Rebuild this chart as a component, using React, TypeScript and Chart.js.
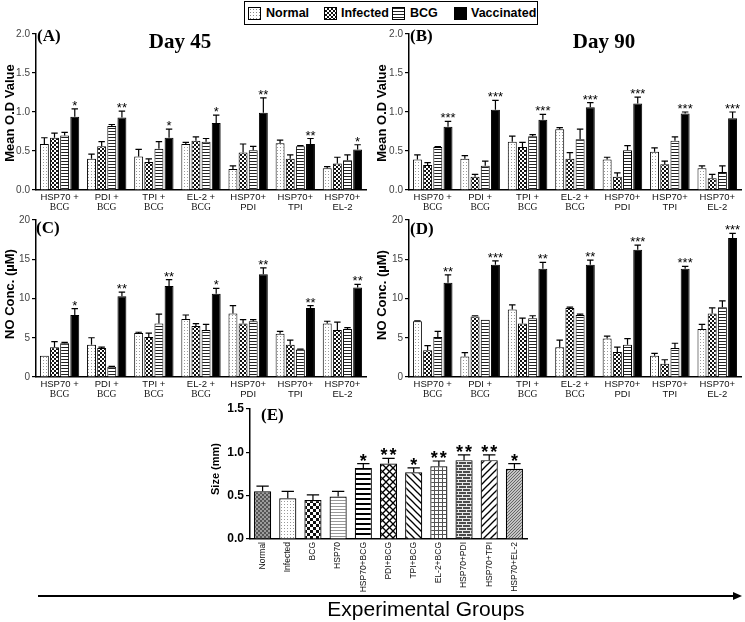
import { useEffect, useRef } from 'react';
import { Chart, registerables } from 'chart.js';

Chart.register(...registerables);

// ---------------- data ----------------
const groupLine1 = ['HSP70 +', 'PDI +', 'TPI +', 'EL-2 +', 'HSP70+', 'HSP70+', 'HSP70+'];
const groupLine2 = ['BCG', 'BCG', 'BCG', 'BCG', 'PDI', 'TPI', 'EL-2'];
const seriesNames = ['Normal', 'Infected', 'BCG', 'Vaccinated'];

// (A) Day 45, mean O.D value
const d45Normal = [0.59, 0.40, 0.43, 0.59, 0.27, 0.60, 0.28];
const d45NormalSem = [0.08, 0.06, 0.09, 0.02, 0.04, 0.04, 0.02];
const d45Infected = [0.67, 0.56, 0.36, 0.63, 0.48, 0.40, 0.34];
const d45InfectedSem = [0.06, 0.06, 0.04, 0.05, 0.11, 0.05, 0.08];
const d45Bcg = [0.70, 0.82, 0.53, 0.62, 0.51, 0.56, 0.38];
const d45BcgSem = [0.04, 0.02, 0.09, 0.04, 0.05, 0.01, 0.07];
const d45Vacc = [0.94, 0.93, 0.67, 0.86, 0.99, 0.59, 0.52];
const d45VaccSem = [0.10, 0.08, 0.11, 0.10, 0.19, 0.07, 0.06];
const d45Stars = ['*', '**', '*', '*', '**', '**', '*'];

// (B) Day 90, mean O.D value
const d90Normal = [0.39, 0.40, 0.62, 0.78, 0.39, 0.49, 0.28];
const d90NormalSem = [0.06, 0.04, 0.07, 0.02, 0.03, 0.05, 0.03];
const d90Infected = [0.32, 0.17, 0.55, 0.40, 0.17, 0.33, 0.15];
const d90InfectedSem = [0.03, 0.03, 0.06, 0.08, 0.05, 0.04, 0.05];
const d90Bcg = [0.55, 0.31, 0.69, 0.65, 0.51, 0.63, 0.23];
const d90BcgSem = [0.005, 0.06, 0.02, 0.13, 0.06, 0.05, 0.08];
const d90Vacc = [0.81, 1.03, 0.90, 1.06, 1.11, 0.98, 0.92];
const d90VaccSem = [0.07, 0.12, 0.07, 0.06, 0.08, 0.02, 0.08];
const d90Stars = ['***', '***', '***', '***', '***', '***', '***'];

// (C) NO concentration, Day 45
const no45Normal = [2.7, 4.1, 5.6, 7.4, 8.1, 5.5, 6.8];
const no45NormalSem = [0, 0.9, 0.1, 0.5, 1.0, 0.3, 0.3];
const no45Infected = [3.8, 3.7, 5.1, 6.5, 6.8, 4.1, 6.0];
const no45InfectedSem = [0.7, 0.1, 0.5, 0.3, 0.5, 0.6, 1.0];
const no45Bcg = [4.3, 1.3, 6.8, 6.0, 7.1, 3.5, 6.1];
const no45BcgSem = [0.1, 0.05, 1.2, 0.7, 0.2, 0.05, 0.2];
const no45Vacc = [7.9, 10.3, 11.6, 10.6, 13.1, 8.8, 11.4];
const no45VaccSem = [0.8, 0.5, 0.8, 0.7, 0.8, 0.3, 0.4];
const no45Stars = ['*', '**', '**', '*', '**', '**', '**'];

// (D) NO concentration, Day 90
const no90Normal = [7.1, 2.6, 8.6, 3.8, 4.9, 2.7, 6.1];
const no90NormalSem = [0.05, 0.5, 0.6, 0.9, 0.3, 0.3, 0.6];
const no90Infected = [3.4, 7.7, 6.8, 8.8, 3.2, 1.7, 8.1];
const no90InfectedSem = [0.6, 0.1, 0.7, 0.1, 0.6, 0.5, 0.7];
const no90Bcg = [5.1, 7.3, 7.5, 7.9, 4.1, 3.7, 8.9];
const no90BcgSem = [0.7, 0, 0.3, 0.1, 0.8, 0.6, 0.8];
const no90Vacc = [12.0, 14.3, 13.8, 14.3, 16.2, 13.8, 17.7];
const no90VaccSem = [1.0, 0.5, 0.8, 0.6, 0.6, 0.3, 0.6];
const no90Stars = ['**', '***', '**', '**', '***', '***', '***'];

// (E) Size (mm)
const sizeGroups = ['Normal', 'Infected', 'BCG', 'HSP70', 'HSP70+BCG', 'PDI+BCG', 'TPI+BCG', 'EL-2+BCG', 'HSP70+PDI', 'HSP70+TPI', 'HSP70+EL-2'];
const sizeValues = [0.55, 0.47, 0.45, 0.49, 0.82, 0.87, 0.77, 0.84, 0.91, 0.91, 0.81];
const sizeSem = [0.06, 0.08, 0.06, 0.06, 0.05, 0.06, 0.05, 0.06, 0.06, 0.06, 0.06];
const sizeStars = ['', '', '', '', '*', '**', '*', '**', '**', '**', '*'];

// ---------------- styles ----------------
const SANS = "'Liberation Sans', Arial, Helvetica, sans-serif";
const SERIF = "'Liberation Serif', 'Times New Roman', Times, serif";

function makePattern(w: number, h: number, draw: (c: CanvasRenderingContext2D) => void): CanvasPattern {
  const t = document.createElement('canvas');
  t.width = w;
  t.height = h;
  const c = t.getContext('2d')!;
  draw(c);
  return c.createPattern(t, 'repeat')!;
}
const dots = (bg: string, fg: string) =>
  makePattern(3, 3, (c) => { c.fillStyle = bg; c.fillRect(0, 0, 3, 3); c.fillStyle = fg; c.fillRect(1, 1, 1, 1); });
const checker = (a: string, b: string, s: number) =>
  makePattern(2 * s, 2 * s, (c) => { c.fillStyle = b; c.fillRect(0, 0, 2 * s, 2 * s); c.fillStyle = a; c.fillRect(0, 0, s, s); c.fillRect(s, s, s, s); });
const hlines = (bg: string, fg: string, period: number, thick: number) =>
  makePattern(2, period, (c) => { c.fillStyle = bg; c.fillRect(0, 0, 2, period); c.fillStyle = fg; c.fillRect(0, 0, 2, thick); });
const diag = (dirs: string[], p: number, lw: number, bg = '#fff', fg = '#000') =>
  makePattern(p, p, (c) => {
    c.fillStyle = bg; c.fillRect(0, 0, p, p);
    c.strokeStyle = fg; c.lineWidth = lw;
    for (const k of [-p, 0, p]) {
      if (dirs.includes('\\')) { c.beginPath(); c.moveTo(k - 1, -1); c.lineTo(k + p + 1, p + 1); c.stroke(); }
      if (dirs.includes('/')) { c.beginPath(); c.moveTo(k - 1, p + 1); c.lineTo(k + p + 1, -1); c.stroke(); }
    }
  });
const grid = () =>
  makePattern(4, 4, (c) => { c.fillStyle = '#fff'; c.fillRect(0, 0, 4, 4); c.fillStyle = '#555'; c.fillRect(0, 0, 4, 1); c.fillRect(0, 0, 1, 4); });
const brick = () =>
  makePattern(8, 6, (c) => {
    c.fillStyle = '#4a4a4a'; c.fillRect(0, 0, 8, 6);
    c.fillStyle = '#e8e8e8';
    c.fillRect(0, 0, 8, 1); c.fillRect(0, 3, 8, 1);
    c.fillRect(0, 0, 1, 3); c.fillRect(4, 3, 1, 3);
  });

// ---------------- layout ----------------
type Spec = {
  id: string;
  canvas: { left: number; top: number; width: number; height: number };
  area: { l: number; t: number; r: number; b: number };
  yMax: number; yStep: number; decimals: number;
  yTitle: string; yTitlePos: [number, number];
  tag: string; tagPos: [number, number];
  day?: string; dayPos?: [number, number];
  series: number[][]; sems: number[][]; stars: string[];
};

const panels: Spec[] = [
  {
    id: 'A', canvas: { left: 0, top: 26, width: 372, height: 190 }, area: { l: 36, t: 33, r: 366, b: 190 },
    yMax: 2, yStep: 0.5, decimals: 1, yTitle: 'Mean O.D Value', yTitlePos: [10, 113],
    tag: '(A)', tagPos: [37, 37], day: 'Day 45', dayPos: [180, 43],
    series: [d45Normal, d45Infected, d45Bcg, d45Vacc], sems: [d45NormalSem, d45InfectedSem, d45BcgSem, d45VaccSem], stars: d45Stars,
  },
  {
    id: 'B', canvas: { left: 372, top: 26, width: 373, height: 190 }, area: { l: 409, t: 33, r: 741, b: 190 },
    yMax: 2, yStep: 0.5, decimals: 1, yTitle: 'Mean O.D Value', yTitlePos: [382, 113],
    tag: '(B)', tagPos: [410, 37], day: 'Day 90', dayPos: [604, 43],
    series: [d90Normal, d90Infected, d90Bcg, d90Vacc], sems: [d90NormalSem, d90InfectedSem, d90BcgSem, d90VaccSem], stars: d90Stars,
  },
  {
    id: 'C', canvas: { left: 0, top: 212, width: 372, height: 190 }, area: { l: 36, t: 220, r: 366, b: 377 },
    yMax: 20, yStep: 5, decimals: 0, yTitle: 'NO Conc. (\u00b5M)', yTitlePos: [10, 294],
    tag: '(C)', tagPos: [36, 229],
    series: [no45Normal, no45Infected, no45Bcg, no45Vacc], sems: [no45NormalSem, no45InfectedSem, no45BcgSem, no45VaccSem], stars: no45Stars,
  },
  {
    id: 'D', canvas: { left: 372, top: 212, width: 373, height: 190 }, area: { l: 409, t: 220, r: 741, b: 377 },
    yMax: 20, yStep: 5, decimals: 0, yTitle: 'NO Conc. (\u00b5M)', yTitlePos: [382, 295],
    tag: '(D)', tagPos: [410, 230],
    series: [no90Normal, no90Infected, no90Bcg, no90Vacc], sems: [no90NormalSem, no90InfectedSem, no90BcgSem, no90VaccSem], stars: no90Stars,
  },
];

function drawErrorBars(chart: any, sems: number[][], capRatio: number) {
  const ctx = chart.ctx;
  const y = chart.scales.y;
  ctx.save();
  ctx.strokeStyle = '#000';
  ctx.lineWidth = 1.2;
  chart.data.datasets.forEach((ds: any, d: number) => {
    const meta = chart.getDatasetMeta(d);
    meta.data.forEach((el: any, i: number) => {
      const e = sems[d][i];
      if (!e) return;
      const top = y.getPixelForValue(ds.data[i] + e);
      const w = el.width * capRatio;
      ctx.beginPath();
      ctx.moveTo(el.x, el.y);
      ctx.lineTo(el.x, top);
      ctx.moveTo(el.x - w, top);
      ctx.lineTo(el.x + w, top);
      ctx.stroke();
    });
  });
  ctx.restore();
}

function GroupPanel({ spec }: { spec: Spec }) {
  const ref = useRef<HTMLCanvasElement>(null);
  const { canvas, area } = spec;
  useEffect(() => {
    const fills: any[] = [dots('#fff', '#9a9a9a'), checker('#111', '#fff', 2), hlines('#fff', '#222', 3, 1), '#000'];
    const yW = area.l - canvas.left;
    const padT = area.t - canvas.top;
    const padR = canvas.left + canvas.width - area.r;
    const xH = canvas.top + canvas.height - area.b;
    const ox = canvas.left;
    const oy = canvas.top;
    const decor = {
      id: 'decor' + spec.id,
      afterDatasetsDraw(chart: any) {
        const ctx = chart.ctx;
        drawErrorBars(chart, spec.sems, 0.36);
        const y = chart.scales.y;
        const x = chart.scales.x;
        ctx.save();
        ctx.fillStyle = '#000';
        // stars over vaccinated bars
        const meta = chart.getDatasetMeta(3);
        ctx.font = `13px ${SANS}`;
        ctx.textAlign = 'center';
        ctx.textBaseline = 'alphabetic';
        meta.data.forEach((el: any, i: number) => {
          const top = y.getPixelForValue(spec.series[3][i] + spec.sems[3][i]);
          ctx.fillText(spec.stars[i], el.x, top + 1);
        });
        // two-line category labels
        const cb = chart.chartArea.bottom;
        ctx.textBaseline = 'middle';
        ctx.fillStyle = '#111';
        groupLine1.forEach((t, i) => {
          const px = x.getPixelForValue(i);
          ctx.font = `9.5px ${SANS}`;
          ctx.fillText(t, px, cb + 7);
          const t2 = groupLine2[i];
          ctx.font = t2 === 'BCG' ? `9.5px ${SERIF}` : `9.5px ${SANS}`;
          ctx.fillText(t2, px, cb + 17);
        });
        // panel tag & day title
        ctx.fillStyle = '#000';
        ctx.textAlign = 'left';
        ctx.font = `bold 17px ${SERIF}`;
        ctx.fillText(spec.tag, spec.tagPos[0] - ox, spec.tagPos[1] - oy);
        if (spec.day && spec.dayPos) {
          ctx.textAlign = 'center';
          ctx.font = `bold 21px ${SERIF}`;
          ctx.fillText(spec.day, spec.dayPos[0] - ox, spec.dayPos[1] - oy);
        }
        // y title
        ctx.save();
        ctx.translate(spec.yTitlePos[0] - ox, spec.yTitlePos[1] - oy);
        ctx.rotate(-Math.PI / 2);
        ctx.textAlign = 'center';
        ctx.textBaseline = 'middle';
        ctx.font = `bold 13px ${SANS}`;
        ctx.fillText(spec.yTitle, 0, 0);
        ctx.restore();
        ctx.restore();
      },
    };
    const chart = new Chart(ref.current!, {
      type: 'bar',
      data: {
        labels: groupLine1.map((t, i) => `${t} ${groupLine2[i]}`),
        datasets: spec.series.map((data, d) => ({
          label: seriesNames[d],
          data,
          backgroundColor: fills[d],
          borderColor: '#000',
          borderWidth: 1,
          categoryPercentage: 0.86,
          barPercentage: 0.88,
        })),
      },
      options: {
        responsive: false,
        animation: false,
        events: [],
        layout: { padding: { top: padT, right: padR, left: 0, bottom: 0 } },
        plugins: { legend: { display: false }, tooltip: { enabled: false }, title: { display: false } },
        scales: {
          x: {
            grid: { display: false, drawTicks: false },
            ticks: { display: false },
            border: { display: true, color: '#000', width: 1.5 },
            afterFit: (s: any) => { s.height = xH; },
          },
          y: {
            min: 0,
            max: spec.yMax,
            ticks: {
              stepSize: spec.yStep,
              callback: (v: any) => Number(v).toFixed(spec.decimals),
              font: { family: SANS, size: 10 },
              color: '#444',
              padding: 2,
            },
            grid: { drawOnChartArea: false, drawTicks: true, tickLength: 4, color: '#000', lineWidth: 1.2 },
            border: { display: true, color: '#000', width: 1.5 },
            afterFit: (s: any) => { s.width = yW; },
          },
        },
      } as any,
      plugins: [decor],
    });
    return () => chart.destroy();
  }, []);
  return (
    <canvas
      ref={ref}
      width={canvas.width}
      height={canvas.height}
      style={{ position: 'absolute', left: canvas.left, top: canvas.top, width: canvas.width, height: canvas.height }}
    />
  );
}

const sizeCanvas = { left: 190, top: 398, width: 345, height: 199 };
const sizeArea = { l: 250, t: 409, r: 527, b: 539 };

function SizePanel() {
  const ref = useRef<HTMLCanvasElement>(null);
  useEffect(() => {
    const fills: any[] = [
      checker('#555', '#9c9c9c', 2),
      dots('#fff', '#999'),
      checker('#111', '#fff', 3),
      hlines('#fff', '#999', 3, 1),
      hlines('#fff', '#000', 5, 2),
      diag(['\\', '/'], 7, 1.3),
      diag(['\\'], 7, 1.3),
      grid(),
      brick(),
      diag(['/'], 7, 1.3),
      diag(['/'], 3, 1, '#c4c4c4', '#666'),
    ];
    const ox = sizeCanvas.left;
    const oy = sizeCanvas.top;
    const decor = {
      id: 'decorE',
      afterDatasetsDraw(chart: any) {
        const ctx = chart.ctx;
        drawErrorBars(chart, [sizeSem], 0.36);
        const y = chart.scales.y;
        const meta = chart.getDatasetMeta(0);
        ctx.save();
        ctx.fillStyle = '#000';
        ctx.font = `bold 18px ${SANS}`;
        ctx.textAlign = 'center';
        ctx.textBaseline = 'alphabetic';
        meta.data.forEach((el: any, i: number) => {
          const n = sizeStars[i].length;
          if (!n) return;
          const top = y.getPixelForValue(sizeValues[i] + sizeSem[i]);
          for (let k = 0; k < n; k++) {
            const dx = (k - (n - 1) / 2) * 9;
            ctx.fillText('*', el.x + dx, top + 3);
          }
        });
        ctx.textAlign = 'left';
        ctx.textBaseline = 'middle';
        ctx.font = `bold 17px ${SERIF}`;
        ctx.fillText('(E)', 261 - ox, 416 - oy);
        ctx.save();
        ctx.translate(216 - ox, 469 - oy);
        ctx.rotate(-Math.PI / 2);
        ctx.textAlign = 'center';
        ctx.font = `bold 11px ${SANS}`;
        ctx.fillText('Size (mm)', 0, 0);
        ctx.restore();
        ctx.restore();
      },
    };
    const chart = new Chart(ref.current!, {
      type: 'bar',
      data: {
        labels: sizeGroups,
        datasets: [{
          label: 'Size (mm)',
          data: sizeValues,
          backgroundColor: fills,
          borderColor: '#000',
          borderWidth: 1.2,
          categoryPercentage: 0.68,
          barPercentage: 1,
        }],
      },
      options: {
        responsive: false,
        animation: false,
        events: [],
        layout: { padding: { top: sizeArea.t - oy, right: ox + sizeCanvas.width - sizeArea.r, left: 0, bottom: 0 } },
        plugins: { legend: { display: false }, tooltip: { enabled: false } },
        scales: {
          x: {
            grid: { display: false, drawTicks: false },
            ticks: { autoSkip: false, minRotation: 90, maxRotation: 90, padding: 3, color: '#111', font: { family: SANS, size: 8.5 } },
            border: { display: true, color: '#000', width: 1.5 },
            afterFit: (s: any) => { s.height = oy + sizeCanvas.height - sizeArea.b; },
          },
          y: {
            min: 0,
            max: 1.5,
            ticks: {
              stepSize: 0.5,
              callback: (v: any) => Number(v).toFixed(1),
              font: { family: SANS, size: 12, weight: 'bold' },
              color: '#000',
              padding: 2,
            },
            grid: { drawOnChartArea: false, drawTicks: true, tickLength: 4, color: '#000', lineWidth: 1.2 },
            border: { display: true, color: '#000', width: 1.5 },
            afterFit: (s: any) => { s.width = sizeArea.l - ox; },
          },
        },
      } as any,
      plugins: [decor],
    });
    return () => chart.destroy();
  }, []);
  return (
    <canvas
      ref={ref}
      width={sizeCanvas.width}
      height={sizeCanvas.height}
      style={{ position: 'absolute', left: sizeCanvas.left, top: sizeCanvas.top, width: sizeCanvas.width, height: sizeCanvas.height }}
    />
  );
}

const legendSwatches = [
  { left: 247, bg: 'radial-gradient(circle, #888 0.7px, transparent 0.9px) 0 0 / 3px 3px, #fff' },
  { left: 323, bg: 'conic-gradient(#111 25%, #fff 0 50%, #111 0 75%, #fff 0) 0 0 / 4px 4px' },
  { left: 391, bg: 'repeating-linear-gradient(to bottom, #222 0 1px, #fff 1px 3px)' },
  { left: 453, bg: '#000' },
];
const legendTextLeft = [265, 340, 409, 470];

function Legend() {
  return (
    <div style={{ position: 'absolute', left: 244, top: 1, width: 294, height: 24, border: '1.5px solid #000', boxSizing: 'border-box' }}>
      {seriesNames.map((name, i) => (
        <div key={name}>
          <div style={{ position: 'absolute', left: legendSwatches[i].left - 244, top: 5, width: 13, height: 13, boxSizing: 'border-box', border: '1px solid #000', background: legendSwatches[i].bg }} />
          <div style={{ position: 'absolute', left: legendTextLeft[i] - 244, top: 1, lineHeight: '20px', fontFamily: SANS, fontWeight: 'bold', fontSize: 12.5, color: '#000', whiteSpace: 'nowrap' }}>{name}</div>
        </div>
      ))}
    </div>
  );
}

export default function App() {
  return (
    <div style={{ position: 'absolute', left: 0, top: 0, width: 745, height: 622, background: '#fff', overflow: 'hidden' }}>
      <Legend />
      {panels.map((p) => <GroupPanel key={p.id} spec={p} />)}
      <SizePanel />
      <div style={{ position: 'absolute', left: 38, top: 595, width: 696, height: 1.5, background: '#000' }} />
      <div style={{ position: 'absolute', left: 733, top: 592, width: 0, height: 0, borderTop: '4px solid transparent', borderBottom: '4px solid transparent', borderLeft: '9px solid #000' }} />
      <div style={{ position: 'absolute', left: 0, top: 597, width: 852, textAlign: 'center', fontFamily: SANS, fontSize: 21, lineHeight: '24px', color: '#000' }}>Experimental Groups</div>
    </div>
  );
}
